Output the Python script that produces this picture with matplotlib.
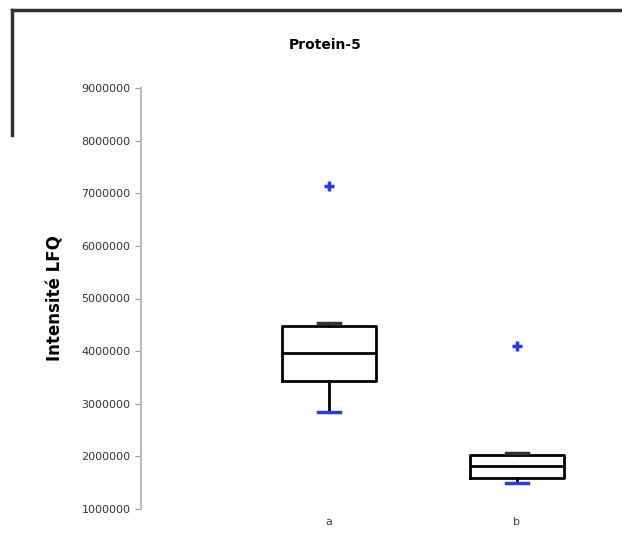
import numpy as np
import matplotlib.pyplot as plt
from matplotlib.lines import Line2D

# Values (box stats per group)
groups = ["a", "b"]
q1 = [3.43e6, 1.59e6]
med = [3.97e6, 1.82e6]
q3 = [4.48e6, 2.03e6]
whislo = [2.84e6, 1.49e6]
whishi = [4.54e6, 2.06e6]
fliers = [[7.14e6], [4.10e6]]
yticks = [1000000, 2000000, 3000000, 4000000, 5000000, 6000000, 7000000, 8000000, 9000000]

stats = []
for i, g in enumerate(groups):
    stats.append(dict(label=g, q1=q1[i], med=med[i], q3=q3[i],
                      whislo=whislo[i], whishi=whishi[i], fliers=fliers[i]))

fig = plt.figure(figsize=(6.22, 5.34), dpi=100)
ax = fig.add_axes([141 / 622, 25 / 534, 470 / 622, 421 / 534])

bp = ax.bxp(stats, positions=[1, 2], widths=0.5, capwidths=0.12,
            boxprops=dict(color='black', linewidth=2),
            medianprops=dict(color='black', linewidth=2),
            whiskerprops=dict(color='black', linewidth=2),
            capprops=dict(color='#333333', linewidth=2.5),
            flierprops=dict(marker='+', markeredgecolor='#2040e0', markersize=7, markeredgewidth=2.5))
# lower caps look blue in the reference
for c in bp['caps'][0::2]:
    c.set_color('#2a3fd0')

ax.set_xlim(0, 2.5)
ax.set_ylim(1e6, 9e6)
ax.set_yticks(yticks)
ax.set_yticklabels([str(t) for t in yticks], fontsize=8, color='#333333')
ax.tick_params(axis='y', length=4, color='#999999')
ax.tick_params(axis='x', length=0, labelsize=8, labelcolor='#444444', pad=6)
for s in ['top', 'right', 'bottom']:
    ax.spines[s].set_visible(False)
ax.spines['left'].set_color('#bbbbbb')
ax.spines['left'].set_linewidth(1.5)
ax.set_ylabel("Intensité LFQ", fontsize=12, fontweight='bold', labelpad=12)

fig.text(325 / 622, 1 - 45 / 534, "Protein-5", ha='center', va='center', fontsize=10, fontweight='bold')

# partial dark frame at the top-left of the image
fig.add_artist(Line2D([12 / 622, 1.0], [1 - 10 / 534, 1 - 10 / 534], color='#333333', linewidth=2.5))
fig.add_artist(Line2D([12 / 622, 12 / 622], [1 - 10 / 534, 1 - 135 / 534], color='#333333', linewidth=2.5))

fig.savefig("out.png", dpi=100)
